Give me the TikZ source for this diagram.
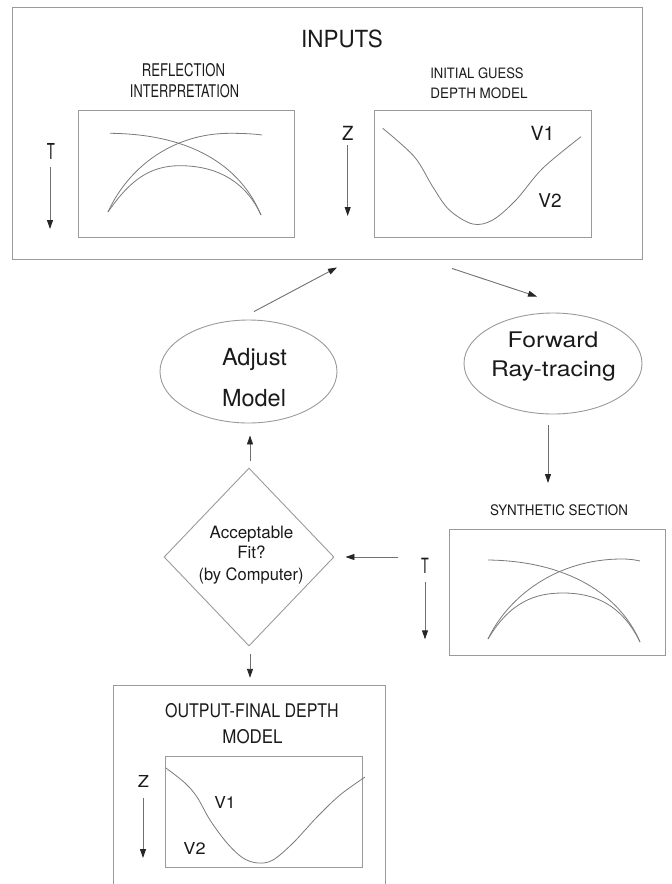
\documentclass[tikz,border=0pt]{standalone}
\usepackage{fontspec}
\setmainfont{TeX Gyre Heros}
\usepackage{graphicx}
\usetikzlibrary{shapes.geometric,arrows.meta,calc}
\definecolor{ink}{HTML}{1A1A1A}
\definecolor{boxgray}{HTML}{9A9A9A}
\definecolor{arrgray}{HTML}{707070}
\definecolor{curvegray}{HTML}{7A7A7A}
\newcommand{\tx}[3]{\fontsize{#2}{#2}\selectfont\scalebox{#1}[1]{#3}}
\begin{document}
\begin{tikzpicture}[x=1pt,y=-1pt,
  lbl/.style={inner sep=0pt, anchor=base, text=ink},
  box/.style={draw=boxgray, line width=0.9pt, inner sep=0pt},
  shapeline/.style={draw=boxgray, line width=0.9pt, inner sep=0pt},
  arr/.style={draw=arrgray, line width=0.9pt, -{Triangle[width=6pt,length=9pt,color=black!85]}},
  curve/.style={draw=curvegray, line width=0.8pt}]
\useasboundingbox (0,0) rectangle (672,884);

% ---------- INPUTS box ----------
\node[box, minimum width=629.3pt, minimum height=252pt] (inputs) at (327.35,133.3) {};
\node[lbl] (inputsT) at (342,47) {\tx{0.95}{23.6}{INPUTS}};
\node[lbl] (refl1) at (183.5,76) {\tx{0.75}{17.5}{REFLECTION}};
\node[lbl] (refl2) at (184.5,97) {\tx{0.73}{17.5}{INTERPRETATION}};
\node[lbl] (guess1) at (477,78) {\tx{0.91}{14.3}{INITIAL GUESS}};
\node[lbl] (guess2) at (479,98) {\tx{0.94}{14.3}{DEPTH MODEL}};

\node[box, minimum width=215.7pt, minimum height=127.3pt] (refl) at (186.15,173.65) {};
\node[box, minimum width=216.7pt, minimum height=127.3pt] (guess) at (482.65,173.65) {};

\node[lbl] (tA) at (51,159) {\tx{0.6}{22}{T}};
\draw[arr] ($(tA.base)+(-1,8)$) -- ($(tA.base)+(-1,70)$);
\node[lbl] (zA) at (347.7,140) {\tx{0.95}{19.5}{Z}};
\draw[arr] ($(zA.base)+(0,5)$) -- ($(zA.base)+(0,76)$);
\node[lbl] (v1A) at (542.5,140) {\tx{1.0}{19.5}{V1}};
\node[lbl] (v2A) at (550,207) {\tx{1.0}{19}{V2}};

% reflection curves
\draw[curve] (110,133.3) .. controls (190,134) and (240,165) .. (261,215);
\draw[curve] (108,212) .. controls (128,168) and (172,133.3) .. (230,133.3)
             .. controls (245,133.3) and (255,134) .. (262,135);
\draw[curve] (108,212) .. controls (130,180) and (150,165.7) .. (180,165.7)
             .. controls (215,165.7) and (245,180) .. (261,215);
% depth curve
\draw[curve] plot[smooth, tension=0.55] coordinates {(382.7,128.3) (414.3,156.7) (432.7,186.7) (449.3,210) (472.7,224) (492.7,220) (516,200) (542.7,168.3) (581,136.7)};

% ---------- Ellipses ----------
\node[shapeline, ellipse, minimum width=177pt, minimum height=103pt] (adjust) at (248.5,371.5) {};
\node[lbl] (adj1) at (254.5,365) {\tx{1.0}{23.5}{Adjust}};
\node[lbl] (adj2) at (254,406.7) {\tx{1.0}{23.5}{Model}};

\node[shapeline, ellipse, minimum width=178pt, minimum height=101pt] (forward) at (553,363.5) {};
\node[lbl] (fw1) at (553,347) {\tx{1.15}{21.5}{Forward}};
\node[lbl] (fw2) at (553.5,376.7) {\tx{1.15}{21.5}{Ray-tracing}};

% ---------- Diamond ----------
\node[shapeline, diamond, minimum width=170pt, minimum height=178pt] (fit) at (249,557) {};
\node[lbl] (fit1) at (251.5,538) {\tx{1.0}{17}{Acceptable}};
\node[lbl] (fit2) at (251.5,558.5) {\tx{1.0}{17}{Fit?}};
\node[lbl] (fit3) at (251,580) {\tx{0.97}{17}{(by Computer)}};

% ---------- Synthetic section ----------
\node[lbl] (synlab) at (559,515) {\tx{0.92}{14.5}{SYNTHETIC SECTION}};
\node[box, minimum width=215.7pt, minimum height=126.4pt] (synth) at (557.15,592.5) {};
\node[lbl] (tS) at (425,573.3) {\tx{0.6}{21}{T}};
\draw[arr] ($(tS.base)+(0,8.5)$) -- ($(tS.base)+(0,66)$);
\draw[curve] (488,560) .. controls (568,561) and (620,595) .. (640,642);
\draw[curve] (488,639) .. controls (508,597) and (556,559) .. (622,559)
             .. controls (630,559) and (636,560) .. (640,561);
\draw[curve] (488,639) .. controls (510,602) and (535,593) .. (563,593)
             .. controls (595,593) and (622,605) .. (640,642);

% ---------- Output ----------
\node[inner sep=0pt, minimum width=271pt, minimum height=210pt] (output) at (249.5,791) {};
\draw[box] (output.south west) -- (output.north west) -- (output.north east) -- (output.south east);
\node[lbl] (out1) at (252,717) {\tx{0.85}{18.8}{OUTPUT-FINAL DEPTH}};
\node[lbl] (out2) at (252.5,743) {\tx{0.9}{18.8}{MODEL}};
\node[box, minimum width=197pt, minimum height=111.3pt] (outin) at (264.2,811.65) {};
\node[lbl] (zO) at (143.5,787) {\tx{1.1}{16.5}{Z}};
\draw[arr] ($(zO.base)+(-0.5,11)$) -- ($(zO.base)+(-0.5,71)$);
\node[lbl] (v1O) at (225,808) {\tx{1.05}{16.5}{V1}};
\node[lbl] (v2O) at (194.5,854) {\tx{1.1}{16.5}{V2}};
\draw[curve] plot[smooth, tension=0.55] coordinates {(166,768) (185,783) (197,797) (210,820) (227,843) (243,858) (258,863) (273,860) (293,843) (317,817) (340,795) (365,777)};

% ---------- Flow connectors ----------
\draw[arr] ($(adjust.north)+(5.5,-8)$) -- ($(inputs.south)+(9.65,7.7)$);
\draw[arr] ($(inputs.south)+(124.65,8.7)$) -- ($(forward.north)+(-16,-16)$);
\draw[arr] ($(forward.south)+(-5,11)$) -- ($(synlab.base)+(-11,-32)$);
\draw[arr] ($(fit.east)+(64,0)$) -- ($(fit.east)+(11,0)$);
\draw[arr] ($(fit.north)+(1,-7)$) -- ($(adjust.south)+(1.5,12)$);
\draw[arr] ($(fit.south)+(1,8)$) -- ($(output.north)+(0.5,-8)$);
\end{tikzpicture}
\end{document}
